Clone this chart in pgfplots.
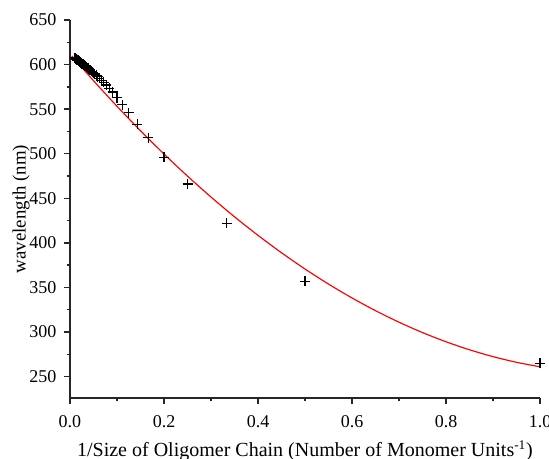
\documentclass[border=0pt]{standalone}
\usepackage{pgfplots}
\pgfplotsset{compat=1.18}
\usepackage{fontspec}
\setmainfont{Liberation Serif}

\begin{document}
\begin{tikzpicture}
\begin{axis}[
  name=ax,
  scale only axis,
  width=282pt, height=226.8pt,
  xmin=0, xmax=1, ymin=226, ymax=650,
  axis x line*=bottom, axis y line*=left,
  axis line style={line width=0.9pt, black!85},
  tick align=outside,
  major tick length=3.6pt, minor tick length=2pt,
  tick style={line width=0.8pt, black!85},
  xtick={0,0.2,0.4,0.6,0.8,1},
  ytick={250,300,350,400,450,500,550,600,650},
  minor x tick num=1, minor y tick num=1,
  /pgf/number format/assume math mode=true,
  xticklabel style={yshift=-3.5pt, /pgf/number format/.cd, fixed, fixed zerofill, precision=1},
  yticklabel style={xshift=-1pt},
  tick label style={font=\fontsize{10.8}{12}\selectfont},
  xlabel={1/Size of Oligomer Chain (Number of Monomer Units\textsuperscript{-1})},
  xlabel style={font=\fontsize{12}{14}\selectfont, yshift=-0.5pt},
  ylabel={wavelength (nm)},
  ylabel style={font=\fontsize{11.3}{14}\selectfont, yshift=-7pt},
  clip=false,
]
\addplot[only marks, mark=+, mark size=3pt, mark options={line width=0.75pt, black}] coordinates {
(1,265) (0.5,357) (0.3333,422) (0.25,466) (0.2,496) (0.1667,518) (0.1429,533) (0.125,546) (0.1111,555) (0.1,563)
(0.0909,569.3) (0.0833,573.5) (0.0769,577.0) (0.0714,579.9) (0.0667,582.3) (0.0625,584.4) (0.0588,586.3) (0.0556,587.9) (0.0526,589.3) (0.05,590.5)
(0.0476,591.6) (0.0455,592.6) (0.0435,593.5) (0.0417,594.3) (0.04,595.1) (0.0385,595.8) (0.0370,596.4) (0.0357,597.0) (0.0345,597.5) (0.0333,598.0)
(0.0323,598.5) (0.0313,598.9) (0.0303,599.3) (0.0294,599.7) (0.0286,600.0) (0.0278,600.4) (0.0270,600.7) (0.0263,601.0) (0.0256,601.2) (0.025,601.5)
(0.0244,601.7) (0.0238,602.0) (0.0233,602.2) (0.0227,602.4) (0.0222,602.6) (0.0217,602.8) (0.0213,603.0) (0.0208,603.2) (0.0204,603.4) (0.02,603.5)
(0.0196,603.7) (0.0192,603.8) (0.0189,604.0) (0.0185,604.1) (0.0182,604.2) (0.0179,604.4) (0.0175,604.5) (0.0172,604.6) (0.0169,604.7) (0.0167,604.8)
(0.0164,604.9) (0.0161,605.0) (0.0159,605.1) (0.0156,605.2) (0.0154,605.3) (0.0152,605.4) (0.0149,605.5) (0.0147,605.6) (0.0145,605.7) (0.0143,605.8)
(0.0141,605.8) (0.0139,605.9) (0.0137,606.0) (0.0135,606.0) (0.0133,606.1) (0.0132,606.2) (0.0130,606.3) (0.0128,606.3) (0.0127,606.4) (0.0125,606.4)
(0.0123,606.5) (0.0122,606.6) (0.0120,606.6) (0.0119,606.7) (0.0118,606.7) (0.0116,606.8) (0.0115,606.8) (0.0114,606.9) (0.0112,606.9) (0.0111,607.0)
(0.0110,607.0) (0.0109,607.1) (0.0108,607.1) (0.0106,607.1) (0.0105,607.2) (0.0104,607.2) (0.0103,607.3) (0.0102,607.3) (0.0101,607.3) (0.01,607.4)
};
% fitted curve
\addplot[red, line width=0.7pt, smooth] coordinates {
(0.004,609.6) (0.05,581.95) (0.1,553.21) (0.15,525.79) (0.2,499.69) (0.25,474.9) (0.3,451.43)
(0.35,429.27) (0.4,408.43) (0.45,388.91) (0.5,370.7) (0.55,353.81) (0.6,338.23) (0.65,323.97)
(0.7,311.03) (0.75,299.4) (0.8,289.09) (0.85,280.09) (0.9,272.41) (0.95,266.05) (1.0,261.0)
};
\end{axis}
\pgfresetboundingbox
\path ([shift={(-42pt,-36.6pt)}]ax.south west) rectangle ([shift={(5.4pt,12pt)}]ax.north east);
\end{tikzpicture}
\end{document}
